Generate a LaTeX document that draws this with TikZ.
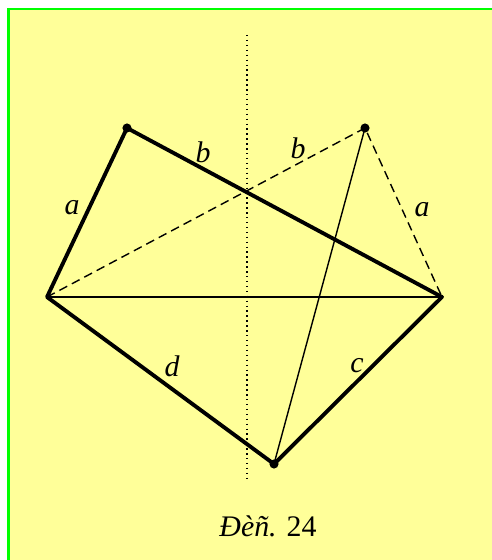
\documentclass[tikz,border=0pt]{standalone}
\usepackage{fontspec}
\setmainfont{Liberation Serif}
\usetikzlibrary{positioning}
\definecolor{paper}{RGB}{255,255,153}
\definecolor{frame}{RGB}{0,255,0}

\begin{document}
\begin{tikzpicture}[x=0.02cm,y=-0.02cm,every node/.style={font=\fontsize{17}{20}\selectfont\itshape}]
\useasboundingbox (0,0) rectangle (492,560);
\fill[paper] (8.5,9) rectangle (492,560);
\draw[frame,line width=1.6pt] (8.5,560)--(8.5,9)--(492,9);
\coordinate (vA) at (47,297);
\coordinate (vB) at (127,128);
\coordinate (vC) at (365,128);
\coordinate (vD) at (442,297);
\coordinate (vE) at (274,464);
\coordinate (axT) at (247,35);
\coordinate (axB) at (247,478);
\draw[dotted,line width=.8pt] (axT)--(axB);
\draw[line width=.8pt] (vA)--(vD);
\draw[line width=.8pt] (vC)--(vE);
\draw[dashed,dash pattern=on 5pt off 3pt,line width=.8pt] (vA)--(vC)--(vD);
\draw[line width=2.2pt,line join=round] (vB)--(vA)--(vE)--(vD)--(vB);
\fill (vB) circle (2.6pt);
\fill (vC) circle (2.6pt);
\fill (vE) circle (2.6pt);
\node (la1) at (72,208) {a};
\node (lb1) at (203,152) {b};
\node (lb2) at (298,148) {b};
\node (la2) at (422,210) {a};
\node (ld) at (172,366) {d};
\node (lc) at (357,366) {c};
\node (cap) at (268,526) {Đèñ. \upshape 24};
\end{tikzpicture}
\end{document}
